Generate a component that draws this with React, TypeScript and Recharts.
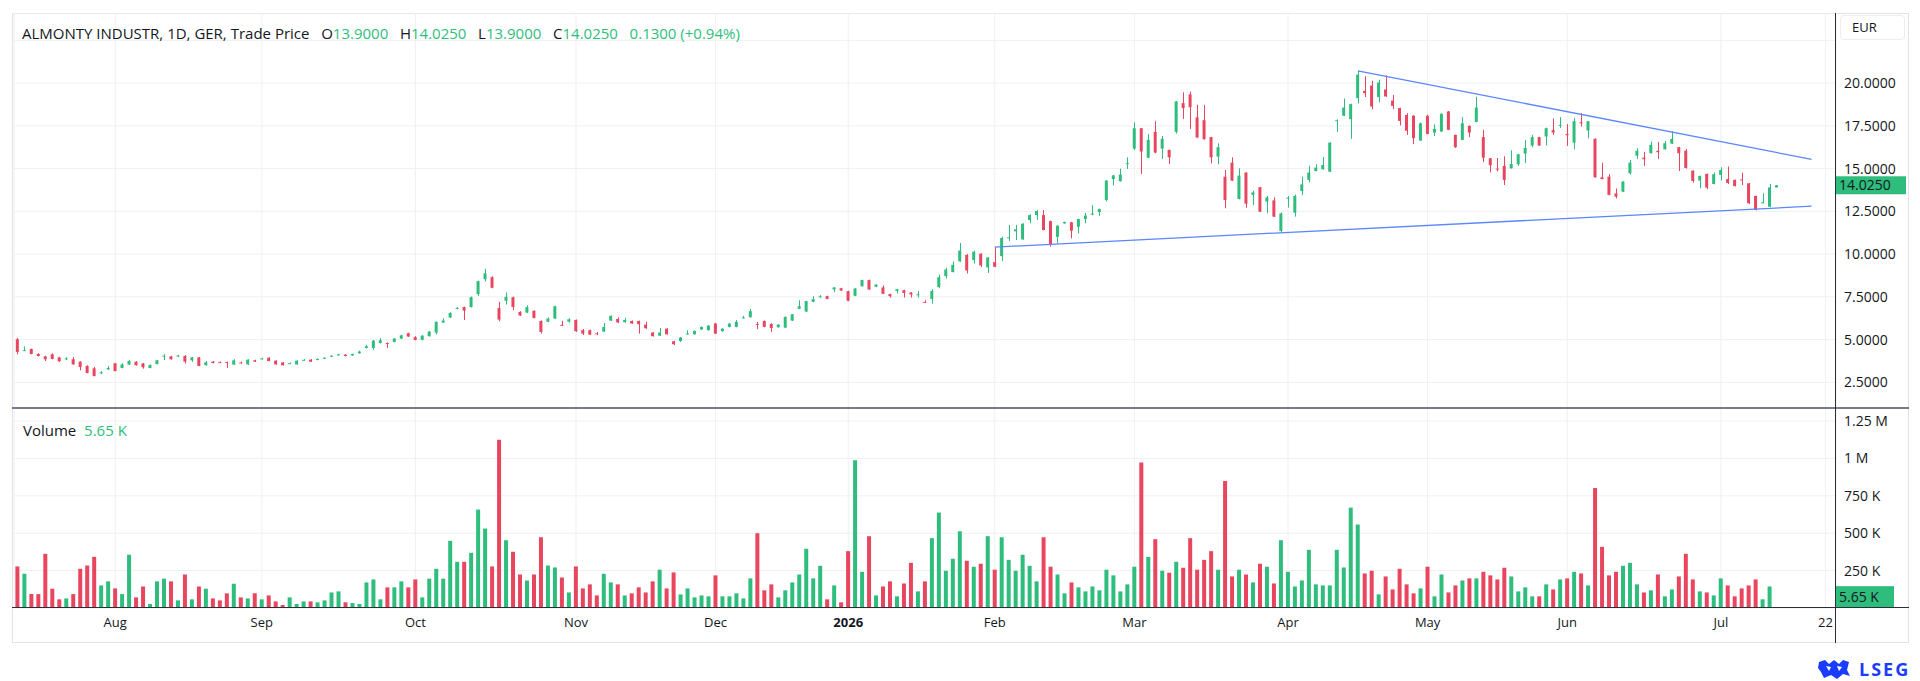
import React from 'react';
import { ComposedChart, BarChart, Bar, XAxis, YAxis, CartesianGrid, ReferenceLine, Cell } from 'recharts';

// daily candles, mid-Jul 2025 .. mid-Jul 2026 (EUR)
const opens = [
  5.02, 4.36, 4.45, 4.16, 4.02, 4.14, 3.96, 3.88, 3.85, 3.71,
  3.46, 3.32, 3.05, 3.26, 3.61, 3.34, 3.54, 3.71, 3.61, 3.34,
  3.57, 4.0, 4.02, 4.05, 4.04, 3.79, 3.96, 3.5, 3.71, 3.68,
  3.69, 3.54, 3.66, 3.55, 3.79, 3.87, 3.94, 3.77, 3.67, 3.6,
  3.55, 3.8, 3.83, 3.81, 3.89, 4.0, 4.08, 4.12, 4.08, 4.2,
  4.51, 4.51, 4.8, 4.8, 4.86, 5.06, 5.37, 5.14, 4.98, 5.2,
  5.41, 6.0, 6.29, 6.82, 6.9, 6.9, 7.66, 8.53, 8.65, 6.84,
  7.27, 7.48, 6.62, 6.58, 6.68, 6.09, 6.05, 6.23, 5.86, 6.05,
  6.15, 5.55, 5.55, 5.37, 5.47, 6.11, 6.21, 6.02, 6.09, 6.09,
  5.88, 5.41, 5.23, 5.64, 4.9, 4.92, 5.33, 5.31, 5.59, 5.55,
  5.94, 5.49, 5.74, 5.74, 6.27, 6.31, 5.92, 6.09, 5.92, 5.72,
  5.7, 6.11, 6.8, 6.64, 7.21, 7.5, 7.54, 7.93, 8.0, 7.83,
  7.56, 8.12, 8.48, 8.09, 8.05, 7.66, 7.85, 7.89, 7.75, 7.63,
  7.2, 7.38, 8.07, 8.71, 8.95, 9.57, 9.96, 9.65, 10.02, 9.22,
  9.53, 9.88, 10.96, 11.33, 10.86, 11.99, 12.29, 12.28, 11.93, 11.01,
  11.8, 11.86, 11.6, 12.05, 12.33, 12.46, 13.16, 14.39, 14.26, 15.28,
  16.17, 17.36, 15.64, 17.15, 16.17, 16.09, 17.15, 18.83, 19.34, 18.0,
  17.83, 16.84, 15.7, 14.53, 15.35, 13.22, 14.77, 13.46, 13.91, 13.07,
  13.14, 11.35, 13.28, 12.42, 13.69, 14.34, 14.86, 14.96, 14.82, 17.8,
  18.09, 17.89, 19.12, 19.55, 19.86, 19.18, 19.63, 18.98, 18.54, 18.14,
  18.09, 16.64, 18.09, 17.11, 17.17, 18.34, 16.97, 16.68, 17.5, 17.73,
  16.84, 15.6, 15.0, 15.16, 15.02, 15.25, 15.88, 16.35, 16.84, 16.88,
  17.25, 17.52, 17.03, 16.52, 17.71, 17.23, 16.74, 14.49, 14.53, 13.55,
  13.65, 14.73, 15.76, 15.64, 15.9, 16.04, 16.13, 16.46, 16.25, 16.05,
  14.88, 14.3, 14.69, 14.1, 14.63, 14.39, 14.34, 14.37, 14.14, 13.4,
  13.0, 12.77, 13.9,
];
const highs = [
  5.1, 4.6, 4.48, 4.2, 4.05, 4.2, 3.99, 3.97, 3.97, 3.73,
  3.5, 3.4, 3.16, 3.45, 3.63, 3.62, 3.82, 3.74, 3.63, 3.54,
  3.81, 4.15, 4.05, 4.1, 4.1, 3.98, 3.98, 3.75, 3.75, 3.72,
  3.71, 3.85, 3.72, 3.85, 3.82, 3.93, 3.97, 3.79, 3.69, 3.66,
  3.79, 3.86, 3.86, 3.89, 3.96, 4.08, 4.16, 4.15, 4.18, 4.35,
  4.7, 4.97, 5.1, 4.83, 5.08, 5.28, 5.4, 5.2, 5.26, 5.5,
  6.06, 6.25, 6.6, 6.9, 6.93, 7.52, 8.45, 9.14, 8.7, 7.2,
  7.76, 7.52, 6.66, 7.0, 6.72, 6.12, 6.3, 6.98, 6.1, 6.25,
  6.18, 5.62, 5.58, 5.45, 5.97, 6.41, 6.3, 6.27, 6.12, 6.11,
  6.04, 5.44, 5.68, 5.67, 4.93, 5.15, 5.55, 5.53, 5.76, 5.84,
  5.98, 5.66, 5.96, 6.14, 6.39, 6.78, 6.04, 6.12, 5.95, 5.9,
  6.35, 6.5, 7.3, 7.27, 7.54, 7.6, 7.57, 8.07, 8.03, 7.86,
  8.01, 8.5, 8.51, 8.24, 8.17, 7.68, 7.97, 7.92, 7.78, 7.83,
  7.3, 7.95, 8.8, 9.2, 9.57, 10.65, 10.0, 10.2, 10.05, 9.83,
  10.4, 11.02, 11.7, 11.7, 11.8, 12.32, 12.58, 12.58, 11.96, 11.68,
  11.9, 11.89, 12.07, 12.4, 12.86, 12.66, 14.32, 14.62, 15.0, 15.66,
  17.71, 17.38, 17.02, 17.77, 16.91, 16.12, 18.95, 19.46, 19.5, 18.73,
  18.71, 16.86, 16.48, 14.92, 15.66, 15.02, 14.79, 13.71, 13.93, 13.4,
  13.32, 12.44, 13.4, 13.48, 14.53, 15.16, 15.25, 15.68, 16.54, 17.88,
  19.1, 18.8, 20.72, 20.4, 20.13, 20.2, 20.45, 19.31, 18.56, 18.24,
  18.12, 17.69, 18.15, 17.59, 18.24, 18.37, 16.99, 18.01, 17.52, 19.2,
  17.27, 15.62, 15.62, 15.72, 16.07, 15.86, 16.68, 16.97, 16.86, 17.4,
  17.93, 18.01, 17.6, 17.95, 18.24, 17.79, 16.77, 15.35, 14.67, 13.84,
  14.26, 15.51, 16.19, 15.98, 16.58, 16.55, 16.62, 17.19, 16.27, 16.15,
  14.9, 14.59, 14.71, 14.77, 15.08, 15.12, 14.36, 14.76, 14.16, 13.42,
  13.55, 14.1, 14.025,
];
const lows = [
  4.14, 4.34, 4.14, 4.02, 3.75, 3.85, 3.7, 3.8, 3.53, 3.2,
  3.03, 2.85, 2.98, 3.22, 3.14, 3.32, 3.52, 3.48, 3.3, 3.32,
  3.55, 3.8, 3.83, 3.98, 3.6, 3.7, 3.44, 3.48, 3.61, 3.64,
  3.35, 3.52, 3.6, 3.53, 3.69, 3.85, 3.73, 3.53, 3.48, 3.57,
  3.53, 3.78, 3.69, 3.79, 3.87, 3.98, 4.06, 4.02, 4.06, 4.18,
  4.49, 4.4, 4.78, 4.51, 4.84, 5.04, 5.16, 4.96, 4.96, 5.18,
  5.3, 5.98, 6.27, 6.78, 6.14, 6.88, 7.55, 8.4, 8.0, 6.07,
  7.05, 6.72, 6.38, 6.55, 6.24, 5.35, 6.02, 6.2, 5.8, 5.99,
  5.45, 5.27, 5.27, 5.26, 5.45, 6.09, 5.97, 5.98, 5.92, 5.35,
  5.64, 5.18, 5.21, 5.29, 4.68, 4.86, 5.3, 5.29, 5.57, 5.53,
  5.33, 5.47, 5.72, 5.72, 6.25, 6.29, 5.61, 5.72, 5.45, 5.7,
  5.68, 6.09, 6.78, 6.62, 7.19, 7.45, 7.36, 7.78, 7.85, 7.25,
  7.54, 8.1, 7.91, 8.07, 7.66, 7.45, 7.7, 7.46, 7.46, 7.46,
  7.14, 7.1, 8.0, 8.58, 8.93, 9.55, 8.87, 9.45, 9.24, 8.9,
  9.24, 9.6, 10.77, 10.82, 10.84, 11.8, 12.0, 11.39, 10.43, 10.63,
  11.78, 10.92, 11.21, 11.8, 12.27, 12.24, 13.08, 14.02, 14.24, 14.98,
  16.09, 14.68, 15.61, 15.9, 15.57, 15.27, 17.05, 17.91, 17.32, 16.8,
  16.7, 15.31, 15.25, 12.68, 14.28, 13.2, 12.71, 12.87, 12.46, 12.4,
  12.17, 11.27, 12.72, 12.19, 13.45, 14.2, 14.84, 14.94, 14.8, 17.15,
  18.07, 16.74, 18.82, 19.19, 18.47, 18.87, 19.2, 18.47, 17.52, 16.97,
  16.43, 16.62, 17.01, 16.91, 17.15, 17.25, 16.21, 16.66, 16.84, 17.71,
  15.38, 14.78, 14.84, 14.04, 15.0, 15.16, 15.33, 16.25, 16.33, 16.35,
  16.97, 17.38, 16.33, 16.13, 17.46, 16.78, 14.47, 14.37, 13.44, 13.26,
  13.63, 14.65, 15.57, 15.16, 15.88, 15.57, 16.11, 16.44, 14.86, 15.0,
  14.18, 13.85, 13.79, 14.08, 14.3, 14.1, 13.96, 14.04, 12.93, 12.56,
  12.97, 12.75, 13.9,
];
const closes = [
  4.28, 4.38, 4.16, 4.04, 3.85, 3.87, 3.73, 3.9, 3.55, 3.4,
  3.05, 2.87, 3.08, 3.34, 3.16, 3.55, 3.75, 3.5, 3.38, 3.52,
  3.79, 4.06, 3.85, 4.07, 3.71, 3.96, 3.46, 3.67, 3.63, 3.66,
  3.65, 3.79, 3.64, 3.83, 3.71, 3.9, 3.75, 3.55, 3.5, 3.62,
  3.77, 3.82, 3.71, 3.87, 3.94, 4.06, 4.14, 4.04, 4.16, 4.3,
  4.61, 4.94, 4.96, 4.78, 5.06, 5.25, 5.18, 4.98, 5.23, 5.47,
  6.04, 6.11, 6.56, 6.85, 6.7, 7.48, 8.42, 8.87, 8.03, 6.17,
  7.5, 6.91, 6.41, 6.9, 6.27, 5.45, 6.23, 6.95, 5.83, 6.19,
  5.49, 5.35, 5.29, 5.33, 5.74, 6.39, 6.0, 6.15, 5.94, 5.9,
  5.66, 5.2, 5.41, 5.31, 4.73, 5.12, 5.36, 5.51, 5.74, 5.82,
  5.35, 5.64, 5.94, 6.04, 6.3, 6.66, 5.89, 5.74, 5.68, 5.88,
  6.33, 6.48, 6.95, 7.25, 7.36, 7.53, 7.38, 8.05, 7.87, 7.27,
  7.99, 8.48, 7.93, 8.22, 7.68, 7.54, 7.95, 7.73, 7.64, 7.65,
  7.15, 7.85, 8.65, 9.1, 9.37, 10.21, 9.04, 10.14, 9.34, 9.8,
  9.26, 10.94, 10.98, 11.45, 11.78, 12.28, 12.52, 11.41, 10.55, 11.66,
  11.88, 11.37, 12.05, 12.25, 12.37, 12.64, 14.3, 14.6, 14.65, 15.32,
  17.36, 16.0, 16.68, 15.94, 16.74, 15.66, 18.93, 18.54, 18.59, 16.82,
  16.72, 15.66, 16.25, 13.16, 14.3, 14.59, 12.95, 13.61, 12.48, 13.32,
  12.19, 12.38, 13.3, 13.4, 14.08, 14.77, 15.06, 15.21, 16.52, 17.83,
  18.57, 18.77, 20.5, 19.41, 18.63, 20.04, 19.22, 18.67, 17.79, 17.21,
  16.78, 17.65, 17.03, 17.32, 18.2, 17.27, 16.25, 17.65, 17.11, 18.57,
  15.64, 15.2, 14.98, 14.34, 15.27, 15.84, 16.21, 16.84, 16.35, 17.36,
  17.11, 17.56, 16.95, 17.77, 17.65, 17.77, 14.49, 14.39, 13.46, 13.36,
  14.24, 15.35, 16.04, 15.55, 16.39, 15.96, 16.48, 16.74, 15.9, 15.04,
  14.28, 14.57, 13.89, 14.67, 14.92, 14.16, 13.98, 14.36, 12.97, 12.58,
  13.03, 13.9, 14.025,
];
// volume in thousands
const volumes = [
  278, 229, 93, 93, 362, 129, 58, 64, 93, 262,
  284, 342, 151, 178, 131, 93, 356, 71, 144, 27,
  178, 196, 178, 51, 224, 58, 144, 129, 64, 51,
  98, 162, 71, 64, 98, 58, 84, 44, 20, 71,
  27, 44, 44, 38, 51, 104, 111, 38, 33, 27,
  171, 191, 58, 138, 138, 178, 138, 191, 71, 196,
  262, 196, 449, 309, 309, 369, 658, 531, 278, 1124,
  453, 376, 224, 184, 224, 473, 284, 271, 204, 104,
  278, 131, 158, 84, 229, 171, 158, 84, 98, 138,
  104, 178, 256, 131, 238, 91, 131, 71, 84, 78,
  218, 78, 78, 98, 64, 198, 500, 118, 158, 71,
  118, 171, 224, 396, 198, 282, 58, 151, 38, 380,
  987, 242, 480, 84, 144, 178, 78, 164, 302, 111,
  178, 467, 638, 249, 329, 513, 316, 276, 296, 480,
  256, 473, 322, 249, 356, 282, 178, 473, 276, 224,
  98, 171, 138, 111, 144, 118, 256, 218, 111, 158,
  276, 973, 342, 460, 249, 236, 309, 269, 467, 256,
  322, 380, 256, 849, 211, 256, 224, 171, 296, 276,
  164, 453, 242, 144, 184, 389, 158, 151, 151, 389,
  271, 671, 558, 231, 249, 91, 211, 124, 262, 158,
  98, 131, 276, 78, 224, 104, 151, 184, 198, 198,
  242, 218, 191, 269, 211, 111, 138, 78, 78, 158,
  124, 191, 198, 242, 231, 151, 802, 409, 218, 242,
  282, 302, 158, 104, 118, 224, 78, 124, 211, 362,
  191, 111, 104, 84, 198, 151, 78, 131, 151, 191,
  58, 144, 5.65,
];
const futureSlots = 8;

const tickIdx = [14, 35, 57, 80, 100, 119, 140, 160, 182, 202, 222, 244, 259];
const tickLabels = ['Aug', 'Sep', 'Oct', 'Nov', 'Dec', '2026', 'Feb', 'Mar', 'Apr', 'May', 'Jun', 'Jul', '22'];
const priceTicks = [2.5, 5, 7.5, 10, 12.5, 15, 17.5, 20, 22.5];
const volTicks = [250, 500, 750, 1000, 1250];
const volTickLabels = ['250 K', '500 K', '750 K', '1 M', '1.25 M'];

const upperTrend = [{ x: 192, y: 20.72 }, { x: 257, y: 15.54 }];
const lowerTrend = [{ x: 140, y: 10.41 }, { x: 257, y: 12.8 }];

const UP = '#2ebd7c';
const DOWN = '#e8465f';
const TEXT = '#131722';
const GRID = '#f0f0f0';
const FONT = '"Open Sans", Roboto, sans-serif';

const rows = Array.from({ length: opens.length + futureSlots }, (_, i) =>
  i < opens.length ? { i, o: opens[i], h: highs[i], l: lows[i], c: closes[i], v: volumes[i] } : { i }
);

function Candle(props: any) {
  const { x, y, width, height, payload } = props;
  if (!payload || payload.o == null) return null;
  const { o, h, l, c } = payload;
  const top = Math.min(y, y + height);
  const bottom = Math.max(y, y + height);
  const span = h - l;
  const py = (p: number) => (span > 0 ? bottom - ((p - l) / span) * (bottom - top) : top);
  const color = c >= o ? UP : DOWN;
  const bTop = py(Math.max(o, c));
  const bBot = py(Math.min(o, c));
  const cx = Math.round(x + width / 2) + 0.5;
  return (
    <g>
      <line x1={cx} x2={cx} y1={top} y2={bottom} stroke={color} strokeWidth={1} />
      <rect x={x} y={bTop} width={width} height={Math.max(1, bBot - bTop)} fill={color} />
    </g>
  );
}

function MonthTick(props: any) {
  const { x, y, payload } = props;
  const label = tickLabels[tickIdx.indexOf(payload.value)];
  return (
    <text x={x} y={y} dy="0.71em" textAnchor="middle" fontSize={13} fill={TEXT} fontWeight={label === '2026' ? 700 : 400}>
      {label}
    </text>
  );
}

function Tag(props: any) {
  const { viewBox, text, below } = props;
  if (!viewBox) return null;
  const x0 = viewBox.x + viewBox.width;
  const yTop = below ? viewBox.y - 21 : viewBox.y - 9;
  return (
    <g>
      <rect x={x0} y={yTop} width={below ? 58 : 70} height={below ? 21 : 18} fill={UP} />
      <text x={x0 + 3} y={yTop + (below ? 10.5 : 9)} dy="0.35em" fontSize={14} fill={TEXT}>{text}</text>
    </g>
  );
}

const abs = (s: React.CSSProperties): React.CSSProperties => ({ position: 'absolute', ...s });
const green = (t: string) => <span style={{ color: UP }}>{t}</span>;

export default function App() {
  const last = opens.length - 1;
  return (
    <div style={abs({ left: 0, top: 0, width: 1920, height: 681, background: '#fff', fontFamily: FONT, color: TEXT, overflow: 'hidden' })}>
      <div style={abs({ left: 12, top: 13, width: 1897, height: 630, border: '1px solid #e0e3eb', boxSizing: 'border-box' })} />

      <div style={abs({ left: 0, top: 13 })}>
        <ComposedChart width={1908} height={395} data={rows} margin={{ top: 0, right: 0, bottom: 0, left: 14 }} barCategoryGap="26%">
          <CartesianGrid stroke={GRID} />
          <XAxis dataKey="i" type="category" hide ticks={tickIdx} interval={0} />
          <YAxis orientation="right" width={72} domain={[1, 24.1]} allowDataOverflow ticks={priceTicks} interval={0}
            tickLine={false} axisLine={false} tickSize={0} tickMargin={8}
            tick={{ fill: TEXT, fontSize: 14 }} tickFormatter={(v: number) => (v > 21 ? '' : v.toFixed(4))} />
          <Bar dataKey={(d: any) => (d.o == null ? null : [d.l, d.h])} shape={<Candle />} isAnimationActive={false} />
          <ReferenceLine segment={upperTrend} stroke="#5a86ff" strokeWidth={1.3} />
          <ReferenceLine segment={lowerTrend} stroke="#5a86ff" strokeWidth={1.3} />
          <ReferenceLine y={closes[last]} stroke="none" label={(p: any) => <Tag {...p} text={closes[last].toFixed(4)} />} />
        </ComposedChart>
      </div>

      <div style={abs({ left: 0, top: 408 })}>
        <BarChart width={1908} height={232} data={rows} margin={{ top: 0, right: 0, bottom: 0, left: 14 }} barCategoryGap="20%">
          <CartesianGrid stroke={GRID} />
          <XAxis dataKey="i" type="category" ticks={tickIdx} interval={0} height={32} axisLine={false} tickLine={false}
            tickSize={0} tickMargin={10} tick={<MonthTick />} />
          <YAxis orientation="right" width={72} domain={[0, 1337]} allowDataOverflow ticks={volTicks} interval={0}
            tickLine={false} axisLine={false} tickSize={0} tickMargin={8}
            tick={{ fill: TEXT, fontSize: 14 }} tickFormatter={(v: number) => volTickLabels[volTicks.indexOf(v)]} />
          <Bar dataKey="v" isAnimationActive={false}>
            {rows.map((r: any) => (
              <Cell key={r.i} fill={r.c >= r.o ? UP : DOWN} />
            ))}
          </Bar>
          <ReferenceLine y={volumes[last]} stroke="none" label={(p: any) => <Tag {...p} below text={volumes[last] + ' K'} />} />
        </BarChart>
      </div>

      {/* pane separators and axis lines */}
      <div style={abs({ left: 12, top: 407, width: 1897, height: 2, background: '#787b86' })} />
      <div style={abs({ left: 12, top: 607, width: 1897, height: 1, background: '#2a2e39' })} />
      <div style={abs({ left: 1835, top: 13, width: 1, height: 630, background: '#2a2e39' })} />

      <div style={abs({ left: 22, top: 24, fontSize: 15, whiteSpace: 'pre', lineHeight: '18px' })}>
        ALMONTY INDUSTR, 1D, GER, Trade Price{'   '}O{green('13.9000')}{'   '}H{green('14.0250')}{'   '}L{green('13.9000')}
        {'   '}C{green('14.0250')}{'   '}{green('0.1300 (+0.94%)')}
      </div>
      <div style={abs({ left: 23, top: 421, fontSize: 15, whiteSpace: 'pre', lineHeight: '18px' })}>
        Volume{'  '}{green('5.65 K')}
      </div>

      <div style={abs({ left: 1840, top: 15, width: 65, height: 25, border: '1px solid #eceef2', borderRadius: 4, boxSizing: 'border-box', fontSize: 13, lineHeight: '23px', paddingLeft: 11 })}>
        EUR
      </div>

      <div style={abs({ left: 1816, top: 657, display: 'flex', alignItems: 'center', gap: 7 })}>
        <svg width={36} height={22} viewBox="0 0 34 22">
          <path d="M2 4 L8 2 L12 6 L17 2 L22 6 L26 2 L32 4 L30 12 L33 18 L26 16 L20 21 L14 17 L7 20 L4 14 L1 10 Z" fill="#1a3cff" />
          <path d="M9 8 L14 9 L12 13 Z M20 8 L25 9 L22 13 Z" fill="#fff" />
        </svg>
        <span style={{ color: '#1a3cff', fontWeight: 700, fontSize: 18, letterSpacing: 2 }}>LSEG</span>
      </div>
    </div>
  );
}
